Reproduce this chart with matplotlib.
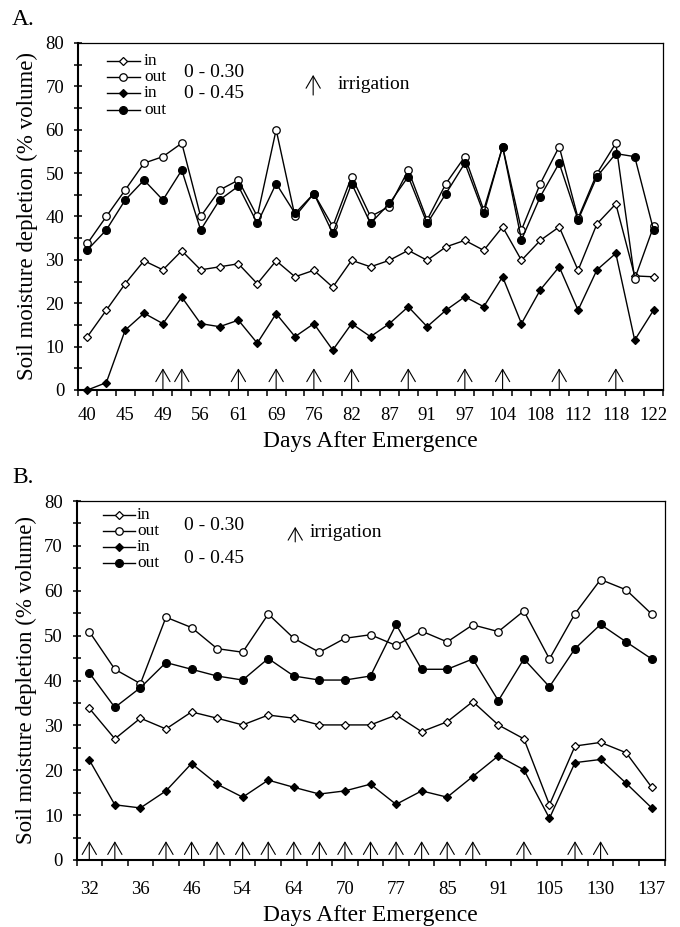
"""Soil moisture depletion inside / outside the row, two seasons (A, B)."""
import numpy as np
import matplotlib.pyplot as plt

plt.rcParams.update({
    "font.family": ["Liberation Serif", "DejaVu Serif"],
    "font.size": 14,
    "axes.linewidth": 1.0,
})

# ---------------------------------------------------------------------------
# data: one value per sampling date, tick labels on every other date
# ---------------------------------------------------------------------------
A_DAYS = [40, 45, 49, 56, 61, 69, 76, 82, 87, 91, 97, 104, 108, 112, 118, 122]
A_IN_030 = [12.3, 18.4, 24.5, 29.8, 27.7, 32.1, 27.7, 28.4, 29.1, 24.5, 29.8,
            26.1, 27.6, 23.7, 29.9, 28.4, 29.9, 32.2, 29.9, 33.0, 34.5, 32.2,
            37.6, 29.9, 34.5, 37.6, 27.6, 38.3, 42.9, 26.3, 26.1]
A_OUT_030 = [33.8, 40.0, 46.1, 52.3, 53.8, 56.9, 40.0, 46.1, 48.4, 40.0, 60.0,
             40.0, 45.3, 37.7, 49.2, 40.0, 42.3, 50.7, 39.2, 47.6, 53.8, 41.5,
             56.1, 36.9, 47.6, 56.1, 39.6, 49.9, 56.9, 25.6, 37.7]
A_IN_045 = [0.0, 1.7, 13.8, 17.7, 15.3, 21.4, 15.3, 14.6, 16.1, 10.8, 17.6,
            12.3, 15.3, 9.2, 15.3, 12.3, 15.3, 19.2, 14.6, 18.4, 21.5, 19.2,
            26.1, 15.3, 23.1, 28.4, 18.4, 27.7, 31.5, 11.5, 18.4]
A_OUT_045 = [32.3, 36.9, 43.8, 48.4, 43.8, 50.7, 36.9, 43.8, 47.0, 38.4, 47.6,
             40.7, 45.3, 36.1, 47.6, 38.4, 43.0, 49.2, 38.4, 45.3, 52.3, 40.7,
             56.1, 34.6, 44.6, 52.3, 39.2, 49.2, 54.5, 53.8, 36.9]
A_IRRIG = [4, 5, 8, 10, 12, 14, 17, 20, 22, 25, 28]      # sample index

B_DAYS = [32, 36, 46, 54, 64, 70, 77, 85, 91, 105, 130, 137]
B_IN_030 = [33.8, 27.0, 31.6, 29.2, 33.0, 31.6, 30.1, 32.3, 31.6, 30.1, 30.1,
            30.1, 32.3, 28.6, 30.8, 35.3, 30.1, 27.0, 12.3, 25.4, 26.2, 23.9,
            16.2]
B_OUT_030 = [50.9, 42.5, 39.3, 54.1, 51.8, 47.1, 46.3, 54.8, 49.4, 46.3, 49.4,
             50.2, 47.8, 51.0, 48.6, 52.4, 50.9, 55.5, 44.8, 54.9, 62.5, 60.2,
             54.8]
B_IN_045 = [22.3, 12.3, 11.6, 15.4, 21.5, 16.9, 14.0, 17.8, 16.2, 14.7, 15.4,
            16.9, 12.4, 15.4, 14.0, 18.6, 23.2, 20.1, 9.3, 21.7, 22.4, 17.1,
            11.6]
B_OUT_045 = [41.7, 34.0, 38.4, 44.0, 42.5, 41.0, 40.1, 44.9, 41.0, 40.1, 40.1,
             41.0, 52.5, 42.5, 42.5, 44.8, 35.5, 44.8, 38.6, 47.1, 52.5, 48.6,
             44.8]
B_IRRIG = [0, 1, 3, 4, 5, 6, 7, 8, 9, 10, 11, 12, 13, 14, 15, 17, 19, 20]

LABELS = ["in", "out", "in", "out"]
MARKERS = [("D", "white", 3.8), ("o", "white", 5.4),
           ("D", "black", 3.8), ("o", "black", 5.6)]


def arrow(ax, xy_tail, xy_head, coords="data"):
    ax.annotate("", xy=xy_head, xytext=xy_tail, xycoords=coords,
                textcoords=coords, annotation_clip=False,
                arrowprops=dict(arrowstyle="->,head_length=0.55,head_width=0.32",
                                lw=0.8, color="black", shrinkA=0, shrinkB=0,
                                mutation_scale=16))


def panel(ax, series, days, irrig, arrow_h, xpad, leg):
    n = len(series[0])
    x = np.arange(n)
    for vals, (m, fc, ms) in zip(series, MARKERS):
        ax.plot(x, vals, color="black", lw=1.0, marker=m, ms=ms, mfc=fc,
                mec="black", mew=0.9, clip_on=False, zorder=3)
    for i in irrig:
        arrow(ax, (i, 0), (i, arrow_h))

    ax.set_xlim(-0.5, n - 0.5)
    ax.set_ylim(0, 80)
    ax.set_xticks(np.arange(0, n, 2))
    ax.set_xticklabels([str(d) for d in days])
    ax.set_xticks(np.arange(-0.5, n, 1.0), minor=True)
    ax.tick_params(axis="x", which="major", length=0, pad=xpad, labelsize=13.5)
    ax.tick_params(axis="x", which="minor", direction="out", length=4.3, width=1.1)
    ax.set_yticks(np.arange(0, 81, 10))
    ax.set_yticks(np.arange(5, 80, 10), minor=True)
    ax.tick_params(axis="y", which="both", direction="inout", length=5.5,
                   width=1.1, pad=7.2, labelsize=13.5)
    for sp in ("left", "bottom"):
        ax.spines[sp].set_linewidth(1.5)
    for sp in ("top", "right"):
        ax.spines[sp].set_linewidth(0.9)
    ax.set_xlabel("Days After Emergence", fontsize=17, labelpad=5)
    ax.set_ylabel("Soil moisture depletion (% volume)", fontsize=16.5,
                  labelpad=5)

    # hand-built legend
    x0, x1, xm, xt = leg["x"]
    for yy, lab, (m, fc, ms) in zip(leg["rows"], LABELS, MARKERS):
        ax.plot([x0, x1], [yy, yy], color="black", lw=1.0,
                transform=ax.transAxes, clip_on=False)
        ax.plot([xm], [yy], marker=m, ms=ms, mfc=fc, mec="black", mew=0.9,
                transform=ax.transAxes, clip_on=False)
        ax.text(xt, yy, lab, transform=ax.transAxes, va="center", ha="left",
                fontsize=12.5)
    gx, gy1, gy2 = leg["group"]
    ax.text(gx, gy1, "0 - 0.30", transform=ax.transAxes, va="center", fontsize=14)
    ax.text(gx, gy2, "0 - 0.45", transform=ax.transAxes, va="center", fontsize=14)
    ax_, y0, y1, tx, ty = leg["irr"]
    arrow(ax, (ax_, y0), (ax_, y1), coords="axes fraction")
    ax.text(tx, ty, "irrigation", transform=ax.transAxes, va="center",
            fontsize=14)


def main():
    fig = plt.figure(figsize=(6.8, 9.27), dpi=100)
    ax_a = fig.add_axes([78 / 680, 1 - 390 / 927, 585 / 680, 347 / 927])
    ax_b = fig.add_axes([76.5 / 680, 1 - 860 / 927, 588 / 680, 359 / 927])

    panel(ax_a, [A_IN_030, A_OUT_030, A_IN_045, A_OUT_045], A_DAYS, A_IRRIG,
          5.0, 12.5,
          {"x": (0.0496, 0.106, 0.0769, 0.113),
           "rows": (0.948, 0.901, 0.855, 0.808),
           "group": (0.181, 0.916, 0.855),
           "irr": (0.402, 0.850, 0.908, 0.443, 0.879)})
    panel(ax_b, [B_IN_030, B_OUT_030, B_IN_045, B_OUT_045], B_DAYS, B_IRRIG,
          4.2, 15.0,
          {"x": (0.045, 0.0995, 0.0723, 0.103),
           "rows": (0.961, 0.916, 0.872, 0.827),
           "group": (0.183, 0.933, 0.841),
           "irr": (0.372, 0.886, 0.928, 0.397, 0.911)})

    fig.text(12 / 680, 1 - 25 / 927, "A.", fontsize=17, va="baseline")
    fig.text(12 / 680, 1 - 483 / 927, "B.", fontsize=17, va="baseline")

    fig.savefig("out.png", dpi=100)
    plt.close(fig)


if __name__ == "__main__":
    main()
